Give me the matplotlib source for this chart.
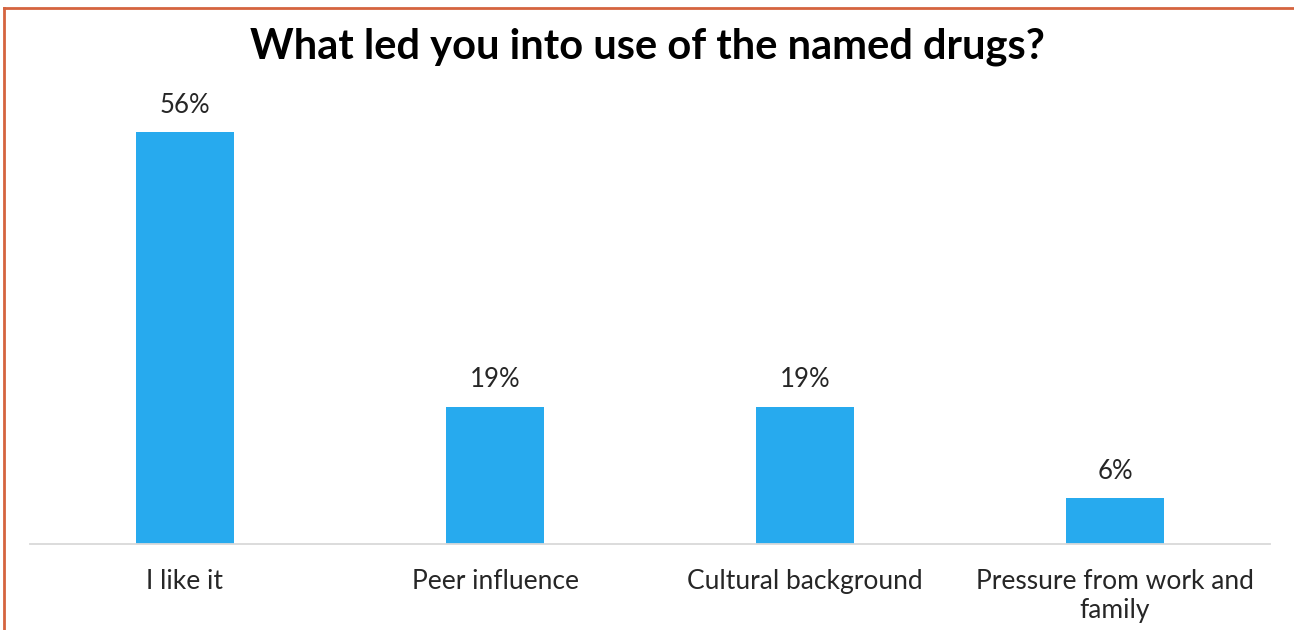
import matplotlib.pyplot as plt
from matplotlib.lines import Line2D

categories = ["I like it", "Peer influence", "Cultural background",
              "Pressure from work and\nfamily"]
shares = [56.25, 18.75, 18.75, 6.25]

plt.rcParams['font.family'] = ['Lato', 'DejaVu Sans']

fig = plt.figure(figsize=(12.94, 6.30), dpi=100)
ax = fig.add_axes([30 / 1294, 86 / 630, 1240 / 1294, 461 / 630])

x = range(len(categories))
bars = ax.bar(x, shares, width=0.315, color='#27AAEE')

for b, v in zip(bars, shares):
    ax.text(b.get_x() + b.get_width() / 2, v + 2.0, f"{v:.0f}%",
            ha='center', va='bottom', fontsize=18.5, color='#262626')

ax.set_xlim(-0.5, 3.5)
ax.set_ylim(0, 63)
ax.set_xticks(list(x))
ax.set_xticklabels(categories, fontsize=19, color='#262626', linespacing=1.2)
ax.tick_params(axis='x', length=0, pad=18)
ax.set_yticks([])
for s in ['top', 'right', 'left']:
    ax.spines[s].set_visible(False)
ax.spines['bottom'].set_color('#D9D9D9')
ax.spines['bottom'].set_linewidth(1.3)

fig.text(0.5, 1 - 47 / 630, "What led you into use of the named drugs?",
         ha='center', va='center', fontsize=30, fontweight='bold', color='black')

# thin frame along the top and left edges
frame = '#D5643F'
fig.add_artist(Line2D([4 / 1294, 1], [1 - 8 / 630, 1 - 8 / 630],
                      transform=fig.transFigure, color=frame, lw=2))
fig.add_artist(Line2D([4 / 1294, 4 / 1294], [0, 1 - 8 / 630],
                      transform=fig.transFigure, color=frame, lw=2))

fig.savefig('out.png', dpi=100)
